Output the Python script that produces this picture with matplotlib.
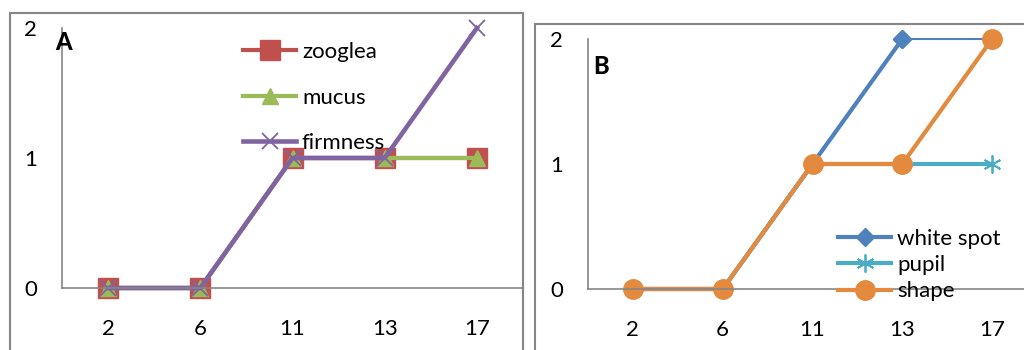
import matplotlib.pyplot as plt
from matplotlib.patches import Rectangle

plt.rcParams['font.family'] = ['Lato', 'DejaVu Sans']

days = ['2', '6', '11', '13', '17']

# panel A
zooglea = [0, 0, 1, 1, 1]
mucus = [0, 0, 1, 1, 1]
firmness = [0, 0, 1, 1, 2]

# panel B
white_spot = [0, 0, 1, 2, 2]
pupil = [0, 0, 1, 1, 1]
shape = [0, 0, 1, 1, 2]

W, H = 1024, 350
fig = plt.figure(figsize=(W / 100, H / 100), dpi=100)

gray = '#868686'
fs = 16

# outer chart frames
fig.patches.append(Rectangle((10 / W, -0.2), 513 / W, 1.2 - 13 / H, transform=fig.transFigure,
                             fill=False, edgecolor=gray, lw=1.5))
fig.patches.append(Rectangle((535 / W, -0.2), 0.6, 1.2 - 24 / H, transform=fig.transFigure,
                             fill=False, edgecolor=gray, lw=1.5))

axA = fig.add_axes([62 / W, 1 - 288 / H, 461 / W, 260 / H])
axB = fig.add_axes([588 / W, 1 - 289 / H, 449 / W, 250 / H])

x = range(len(days))

axA.plot(x, zooglea, color='#C0504D', lw=3, marker='s', ms=14, label='zooglea', clip_on=False)
axA.plot(x, mucus, color='#9BBB59', lw=3, marker='^', ms=11, label='mucus', clip_on=False)
axA.plot(x, firmness, color='#8064A2', lw=3.3, marker='x', ms=12, mew=1.3, label='firmness', clip_on=False)

axB.plot(x, white_spot, color='#4F81BD', lw=1.5, marker='D', ms=9, clip_on=False)
axB.plot(list(x)[:4], white_spot[:4], color='#4F81BD', lw=3, marker='D', ms=9,
         label='white spot', clip_on=False)
axB.plot(x, pupil, color='#4BACC6', lw=3, marker=(6, 2, 0), ms=13, mew=1.3, label='pupil', clip_on=False)
axB.plot(x, shape, color='#E38A3E', lw=3, marker='o', ms=14, label='shape', clip_on=False)

for ax in (axA, axB):
    ax.set_xlim(-0.5, 4.5)
    ax.set_ylim(0, 2)
    ax.set_xticks(list(x))
    ax.set_xticklabels(days)
    ax.set_yticks([0, 1, 2])
    for s in ('top', 'right'):
        ax.spines[s].set_visible(False)
    for s in ('left', 'bottom'):
        ax.spines[s].set_color(gray)
        ax.spines[s].set_linewidth(1.2)
    ax.tick_params(axis='both', length=0, labelsize=fs)
    ax.tick_params(axis='y', pad=18)
    ax.tick_params(axis='x', pad=22)
    ax.set_facecolor('none')

fig.text(64 / W, 1 - 43 / H, 'A', fontsize=17, fontweight='black', ha='center', va='center')
fig.text(601 / W, 1 - 66 / H, 'B', fontsize=17, fontweight='black', ha='center', va='center')

axA.legend(loc='upper left', bbox_to_anchor=(243 / W, 1 - 42 / H), bbox_transform=fig.transFigure,
           frameon=False, fontsize=fs, handlelength=2.4, handletextpad=0.25,
           labelspacing=1.15, borderpad=0, borderaxespad=0)
axB.legend(loc='upper left', bbox_to_anchor=(838 / W, 1 - 229 / H), bbox_transform=fig.transFigure,
           frameon=False, fontsize=fs, handlelength=2.4, handletextpad=0.25,
           labelspacing=0.28, borderpad=0, borderaxespad=0)

fig.savefig('out.png', dpi=100)
